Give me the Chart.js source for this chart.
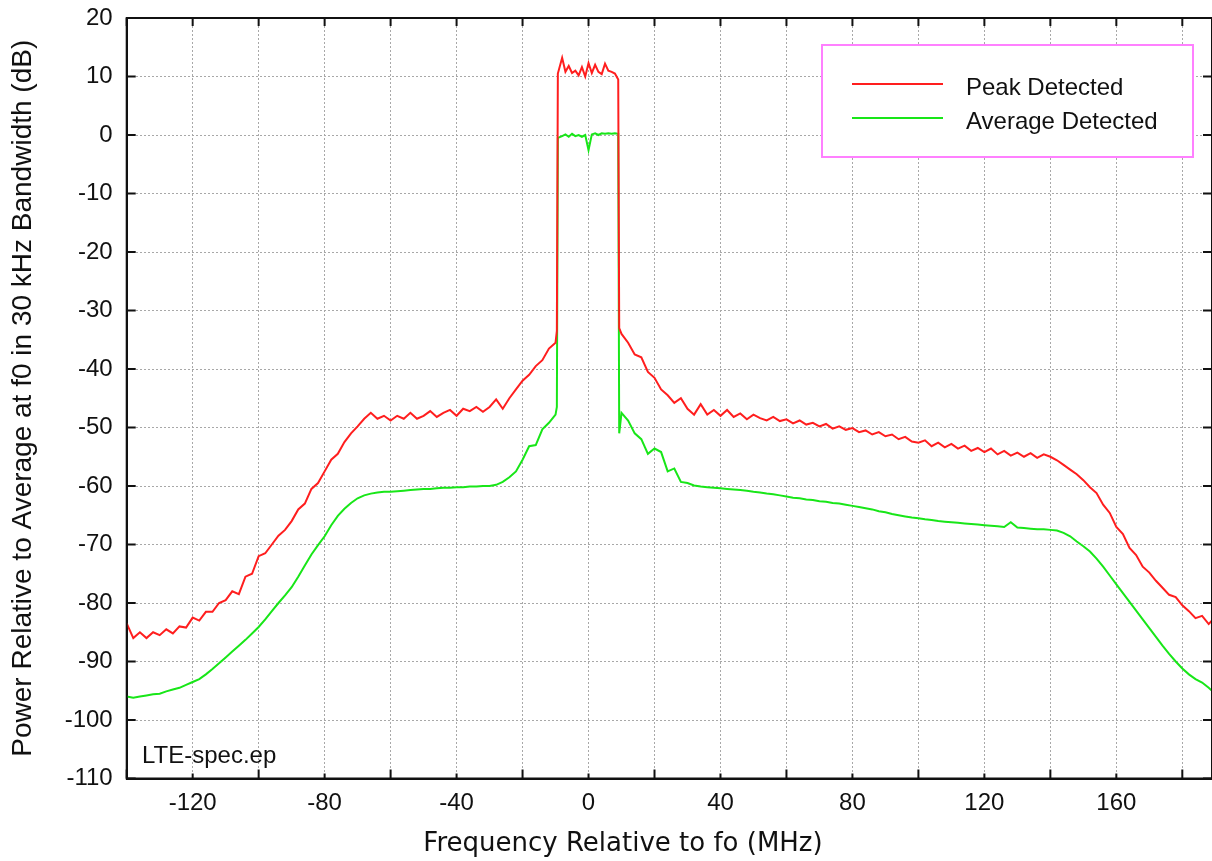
<!DOCTYPE html>
<html><head><meta charset="utf-8">
<script src="https://cdn.jsdelivr.net/npm/chart.js@4.4.1/dist/chart.umd.min.js"></script>
<style>html,body{margin:0;padding:0;background:#fff;overflow:hidden}#wrap{width:1212px;height:861px;position:relative}</style>
</head><body><div id="wrap"><canvas id="c"></canvas></div>
<script>
const freqMHz = [
 -140,-138,-136,-134,-132,-130,-128,-126,-124,-122,
 -120,-118,-116,-114,-112,-110,-108,-106,-104,-102,
 -100,-98,-96,-94,-92,-90,-88,-86,-84,-82,
 -80,-78,-76,-74,-72,-70,-68,-66,-64,-62,
 -60,-58,-56,-54,-52,-50,-48,-46,-44,-42,
 -40,-38,-36,-34,-32,-30,-28,-26,-24,-22,
 -20,-18,-16,-14,-12,-10,
 -9.6,-9.3,-8,-7,-6,-5,-4,-3,-2,-1,0,1,2,3,4,5,6,7,8,9,9.3,
 10,12,14,16,18,20,22,24,26,28,
 30,32,34,36,38,40,42,44,46,48,
 50,52,54,56,58,60,62,64,66,68,
 70,72,74,76,78,80,82,84,86,88,
 90,92,94,96,98,100,102,104,106,108,
 110,112,114,116,118,120,122,124,126,128,
 130,132,134,136,138,140,142,144,146,148,
 150,152,154,156,158,160,162,164,166,168,
 170,172,174,176,178,180,182,184,186,188,
 189
];
const peakDb = [
 -83.5,-86,-85,-86,-85,-85.5,-84.5,-85.2,-84,-84.2,
 -82.5,-83,-81.5,-81.5,-80,-79.5,-78,-78.5,-75.5,-75,
 -72,-71.5,-70,-68.5,-67.5,-66,-64,-63,-60.5,-59.5,
 -57.5,-55.5,-54.5,-52.5,-51,-49.8,-48.5,-47.5,-48.5,-48,
 -48.8,-48,-48.5,-47.5,-48.5,-48,-47.2,-48.2,-47.5,-47,
 -48,-46.8,-47.2,-46.5,-47.3,-46.5,-45.2,-46.8,-45,-43.5,
 -42,-41,-39.5,-38.5,-36.5,-35.5,
 -33.5,10.5,13.2,10.8,11.8,10.6,11,10.2,11.6,10,12.3,10.6,12,10.8,10.4,12.2,11,10.8,10.5,9.5,-33,
 -34,-35.5,-37.5,-38,-40.5,-41.5,-43.5,-44.5,-45.8,-45,
 -46.8,-47.8,-46,-47.8,-47,-48,-47,-48.2,-47.6,-48.6,
 -47.8,-48.4,-48.8,-48.2,-48.9,-48.6,-49.3,-48.8,-49.5,-49.2,
 -49.8,-49.4,-50.2,-49.8,-50.4,-50.1,-50.8,-50.5,-51.2,-50.8,
 -51.5,-51.2,-52,-51.6,-52.4,-52.6,-52.2,-53.2,-52.6,-53.4,
 -52.8,-53.6,-53.1,-54,-53.5,-54.2,-53.6,-54.6,-54,-54.8,
 -54.3,-55,-54.4,-55.2,-54.6,-55,-55.6,-56.4,-57.2,-58,
 -59,-60.2,-61.2,-63.2,-64.6,-67,-68.2,-70.6,-71.8,-73.8,
 -74.8,-76.2,-77.4,-78.6,-79,-80.4,-81.4,-82.6,-82.2,-83.6,
 -83
];
const avgDb = [
 -96,-96.2,-96,-95.8,-95.6,-95.5,-95.1,-94.8,-94.5,-94,
 -93.5,-93,-92.2,-91.3,-90.3,-89.3,-88.3,-87.3,-86.3,-85.2,
 -84.1,-82.8,-81.4,-80,-78.7,-77.3,-75.5,-73.6,-71.7,-70.1,
 -68.6,-66.7,-65.1,-63.9,-62.9,-62.1,-61.6,-61.3,-61.1,-61,
 -61,-60.9,-60.8,-60.7,-60.6,-60.5,-60.5,-60.4,-60.3,-60.3,
 -60.2,-60.2,-60.1,-60.1,-60,-60,-59.8,-59.3,-58.5,-57.5,
 -55.5,-53.2,-53,-50.3,-49.2,-47.8,
 -46.5,-0.5,-0.2,0.1,-0.3,0.2,-0.2,0,-0.3,0,-2.6,0.1,0.3,0,0.3,0.2,0.3,0.2,0.3,0.2,-51,
 -47.5,-48.8,-51,-52,-54.5,-53.6,-54.2,-57.5,-57,-59.3,
 -59.5,-59.9,-60.1,-60.2,-60.3,-60.4,-60.5,-60.6,-60.7,-60.8,
 -61,-61.1,-61.3,-61.4,-61.6,-61.8,-62,-62.1,-62.3,-62.4,
 -62.6,-62.7,-62.9,-63,-63.2,-63.4,-63.6,-63.8,-64,-64.3,
 -64.5,-64.8,-65,-65.2,-65.4,-65.5,-65.7,-65.8,-66,-66.1,
 -66.2,-66.3,-66.4,-66.5,-66.6,-66.7,-66.8,-66.9,-67,-66.2,
 -67.1,-67.2,-67.3,-67.4,-67.4,-67.5,-67.6,-68,-68.6,-69.5,
 -70.3,-71.2,-72.4,-73.8,-75.3,-76.8,-78.3,-79.8,-81.3,-82.8,
 -84.3,-85.8,-87.3,-88.7,-90,-91.2,-92.2,-93,-93.6,-94.5,
 -95
];
const seriesNames = ['Peak Detected', 'Average Detected'];
const seriesColors = ['#ff1e1e', '#18e618'];
const xLabelTicks = [-120, -80, -40, 0, 40, 80, 120, 160];
const xTitle = 'Frequency Relative to fo (MHz)';
const yTitle = 'Power Relative to Average at f0 in 30 kHz Bandwidth (dB)';
const noteText = 'LTE-spec.ep';

const FONT = '"Liberation Sans", Arial, Helvetica, sans-serif';

const decor = {
  id: 'decor',
  afterDraw(chart) {
    const {ctx, chartArea: a, scales: {x, y}} = chart;
    ctx.save();
    ctx.strokeStyle = '#111';
    ctx.lineWidth = 2;
    ctx.strokeRect(a.left, a.top, a.right - a.left, a.bottom - a.top);
    ctx.beginPath();
    x.ticks.forEach(t => {
      const px = x.getPixelForValue(t.value);
      const lb = xLabelTicks.includes(t.value) ? 5 : 9;
      ctx.moveTo(px, a.bottom); ctx.lineTo(px, a.bottom - lb);
      ctx.moveTo(px, a.top); ctx.lineTo(px, a.top + 8);
    });
    y.ticks.forEach(t => {
      const py = y.getPixelForValue(t.value);
      ctx.moveTo(a.left, py); ctx.lineTo(a.left + 9, py);
      ctx.moveTo(a.right, py); ctx.lineTo(a.right - 9, py);
    });
    ctx.stroke();
    ctx.fillStyle = '#111';
    ctx.font = '26px "DejaVu Sans", sans-serif';
    ctx.textAlign = 'center';
    ctx.textBaseline = 'alphabetic';
    ctx.fillText(xTitle, 623, 851);
    ctx.font = '24px ' + FONT;
    ctx.textAlign = 'left';
    ctx.fillText(noteText, 142, 763);
    ctx.fillStyle = '#fff';
    ctx.fillRect(822, 45, 371, 112);
    ctx.strokeStyle = '#ff80ff';
    ctx.lineWidth = 2;
    ctx.strokeRect(822, 45, 371, 112);
    chart.data.datasets.forEach((ds, i) => {
      const ly = 84 + i * 34;
      ctx.strokeStyle = ds.borderColor;
      ctx.lineWidth = 2;
      ctx.beginPath(); ctx.moveTo(852, ly); ctx.lineTo(943, ly); ctx.stroke();
      ctx.fillStyle = '#111';
      ctx.font = '24px ' + FONT;
      ctx.fillText(ds.label, 966, ly + 11);
    });
    ctx.restore();
  }
};

const mk = (vals) => freqMHz.map((f, i) => ({x: f, y: vals[i]}));

new Chart(document.getElementById('c'), {
  type: 'line',
  data: {
    datasets: [
      {label: seriesNames[0], data: mk(peakDb), borderColor: seriesColors[0], borderWidth: 2, pointRadius: 0, tension: 0},
      {label: seriesNames[1], data: mk(avgDb), borderColor: seriesColors[1], borderWidth: 2, pointRadius: 0, tension: 0}
    ]
  },
  options: {
    responsive: true,
    maintainAspectRatio: false,
    animation: false,
    layout: {padding: {top: 18, left: 0, right: 0, bottom: 0}},
    plugins: {legend: {display: false}, tooltip: {enabled: false}},
    scales: {
      x: {
        type: 'linear', min: -140, max: 189,
        ticks: {
          stepSize: 20, includeBounds: false, autoSkip: false, maxRotation: 0,
          padding: 10, color: '#111', font: {family: FONT, size: 24},
          callback: v => xLabelTicks.includes(v) ? String(v) : ''
        },
        grid: {color: '#a8a8a8', lineWidth: 1, drawTicks: false},
        border: {display: true, color: '#111', width: 2, dash: [2, 2]},
        afterFit: s => { s.height = 82.5; s.paddingLeft = 0; s.paddingRight = 0; }
      },
      y: {
        type: 'linear', min: -110, max: 20,
        ticks: {stepSize: 10, padding: 14, color: '#111', font: {family: FONT, size: 24}},
        grid: {color: '#a8a8a8', lineWidth: 1, drawTicks: false},
        border: {display: true, color: '#111', width: 2, dash: [2, 2]},
        title: {display: true, text: yTitle, color: '#111', font: {family: FONT, size: 28}, padding: {top: 6, bottom: 0}},
        afterFit: s => { s.width = 126.7; s.paddingTop = 0; s.paddingBottom = 0; }
      }
    }
  },
  plugins: [decor]
});
</script>
</body></html>
